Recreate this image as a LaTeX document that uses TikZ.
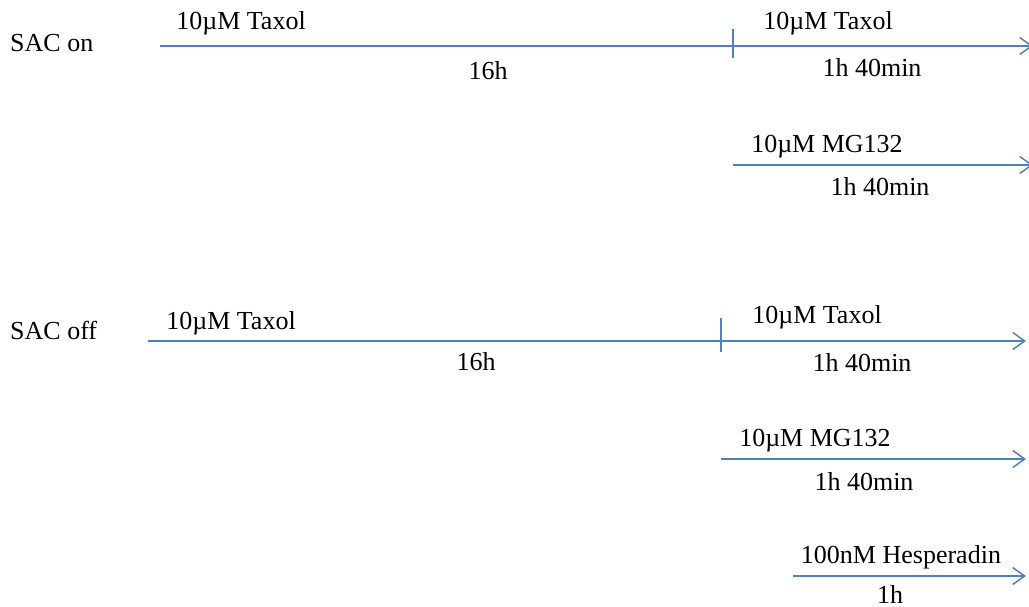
\documentclass[tikz,border=0pt]{standalone}
\usepackage{fontspec}
\setmainfont{Liberation Serif}
\usetikzlibrary{arrows.meta}
\definecolor{lineblue}{RGB}{79,129,189}
\tikzset{
  lbl/.style={anchor=base, inner sep=0pt, font=\fontsize{26}{28}\selectfont, text=black},
  lblw/.style={anchor=base west, inner sep=0pt, font=\fontsize{26}{28}\selectfont, text=black},
  tl/.style={draw=lineblue, line width=1.5pt},
  tarrow/.style={tl, -{Straight Barb[length=12pt,width=17pt,line width=1.5pt]}},
}
\begin{document}
\begin{tikzpicture}[x=1pt,y=-1pt]
\clip (0,0) rectangle (1029,607);
% SAC on
\node[lblw] (sacon) at (10,52) {SAC on};
\coordinate (a1) at (160,46);
\coordinate (a2) at (733,46);
\coordinate (a3) at (1033,46);
\coordinate (t1a) at (733,29);
\coordinate (t1b) at (733,58);
\draw[tl] (a1) -- (a2);
\draw[tarrow] (a2) -- (a3);
\draw[tl] (t1a) -- (t1b);
\node[lbl] (tax1) at (241,30) {10µM Taxol};
\node[lbl] (h16a) at (488,80) {16h};
\node[lbl] (tax2) at (828,30) {10µM Taxol};
\node[lbl] (m1) at (872,77) {1h 40min};
\coordinate (b1) at (733,165);
\coordinate (b2) at (1033,165);
\draw[tarrow] (b1) -- (b2);
\node[lbl] (mg1) at (827,153) {10µM MG132};
\node[lbl] (m2) at (880,196) {1h 40min};
% SAC off
\node[lblw] (sacoff) at (10,339) {SAC off};
\coordinate (c1) at (148,341);
\coordinate (c2) at (721,341);
\coordinate (c3) at (1026,341);
\coordinate (t2a) at (721,318);
\coordinate (t2b) at (721,352);
\draw[tl] (c1) -- (c2);
\draw[tarrow] (c2) -- (c3);
\draw[tl] (t2a) -- (t2b);
\node[lbl] (tax3) at (231,329) {10µM Taxol};
\node[lbl] (h16b) at (476,370) {16h};
\node[lbl] (tax4) at (817,323) {10µM Taxol};
\node[lbl] (m3) at (862,371) {1h 40min};
\coordinate (d1) at (721,459);
\coordinate (d2) at (1026,459);
\draw[tarrow] (d1) -- (d2);
\node[lbl] (mg2) at (815,446) {10µM MG132};
\node[lbl] (m4) at (864,490) {1h 40min};
\coordinate (e1) at (793,576);
\coordinate (e2) at (1026,576);
\draw[tarrow] (e1) -- (e2);
\node[lbl] (hes) at (901,563) {100nM Hesperadin};
\node[lbl] (h1) at (890,603) {1h};
\end{tikzpicture}
\end{document}
